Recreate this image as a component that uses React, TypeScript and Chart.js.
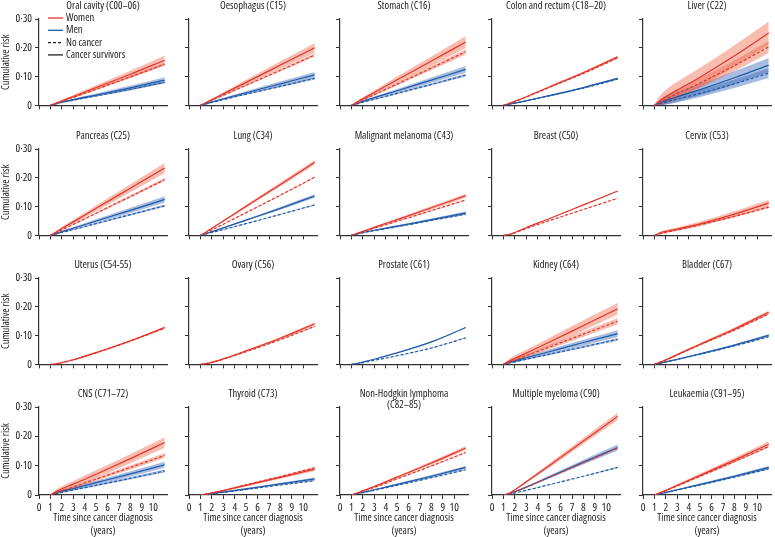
import React, { useEffect, useRef } from 'react';
import { Chart, registerables } from 'chart.js';

Chart.register(...registerables);

const FONT = '"Open Sans", "DejaVu Sans Condensed", sans-serif';
const STRETCH = 'condensed';
Chart.defaults.font.family = FONT;
Chart.defaults.font.weight = STRETCH as any;
Chart.defaults.color = '#222';

// ---- shared axes ----
const YEARS = [1, 1.5, 2, 3, 5, 8, 11];
const X_TICKS = [0, 1, 2, 3, 4, 5, 6, 7, 8, 9, 10];
const X_LABELS = ['0', '1', '2', '3', '4', '5', '6', '7', '8', '9', '10'];
const Y_TICKS = [0, 0.1, 0.2, 0.3];
const Y_LABELS = ['0', '0·10', '0·20', '0·30'];
const LEGEND_LABELS = ['Women', 'Men', 'No cancer', 'Cancer survivors'];
const X_TITLE = ['Time since cancer diagnosis', '(years)'];
const Y_TITLE = 'Cumulative risk';

const TITLES: (string | string[])[] = [
  'Oral cavity (C00–06)', 'Oesophagus (C15)', 'Stomach (C16)', 'Colon and rectum (C18–20)', 'Liver (C22)',
  'Pancreas (C25)', 'Lung (C34)', 'Malignant melanoma (C43)', 'Breast (C50)', 'Cervix (C53)',
  'Uterus (C54-55)', 'Ovary (C56)', 'Prostate (C61)', 'Kidney (C64)', 'Bladder (C67)',
  'CNS (C71–72)', 'Thyroid (C73)', ['Non-Hodgkin lymphoma', '(C82–85)'], 'Multiple myeloma (C90)', 'Leukaemia (C91–95)',
];

// ---- data: W = women survivors, Wnc = women no cancer, M = men survivors, Mnc = men no cancer; *Ci = half-width of band ----
const oralW = [0, 0.008, 0.016, 0.031, 0.062, 0.108, 0.157];
const oralWCi = [0, 0.002, 0.003, 0.005, 0.008, 0.012, 0.016];
const oralWnc = [0, 0.007, 0.014, 0.028, 0.056, 0.099, 0.143];
const oralWncCi = [0, 0.001, 0.001, 0.002, 0.003, 0.004, 0.005];
const oralM = [0, 0.006, 0.011, 0.020, 0.036, 0.061, 0.088];
const oralMCi = [0, 0.001, 0.002, 0.003, 0.005, 0.008, 0.010];
const oralMnc = [0, 0.005, 0.010, 0.018, 0.033, 0.056, 0.080];
const oralMncCi = [0, 0.001, 0.001, 0.001, 0.002, 0.003, 0.004];

const oesoW = [0, 0.010, 0.020, 0.040, 0.080, 0.140, 0.200];
const oesoWCi = [0, 0.002, 0.003, 0.005, 0.009, 0.013, 0.017];
const oesoWnc = [0, 0.009, 0.018, 0.035, 0.070, 0.122, 0.175];
const oesoWncCi = [0, 0.001, 0.001, 0.002, 0.003, 0.004, 0.005];
const oesoM = [0, 0.006, 0.012, 0.023, 0.044, 0.075, 0.106];
const oesoMCi = [0, 0.001, 0.002, 0.003, 0.005, 0.008, 0.010];
const oesoMnc = [0, 0.005, 0.010, 0.020, 0.039, 0.066, 0.094];
const oesoMncCi = [0, 0.001, 0.001, 0.001, 0.002, 0.003, 0.004];

const stomW = [0, 0.012, 0.023, 0.045, 0.089, 0.154, 0.220];
const stomWCi = [0, 0.003, 0.005, 0.007, 0.011, 0.016, 0.021];
const stomWnc = [0, 0.009, 0.019, 0.037, 0.074, 0.130, 0.186];
const stomWncCi = [0, 0.001, 0.002, 0.003, 0.005, 0.007, 0.009];
const stomM = [0, 0.007, 0.014, 0.027, 0.051, 0.088, 0.125];
const stomMCi = [0, 0.002, 0.003, 0.004, 0.006, 0.009, 0.012];
const stomMnc = [0, 0.005, 0.011, 0.021, 0.042, 0.073, 0.105];
const stomMncCi = [0, 0.001, 0.001, 0.002, 0.003, 0.004, 0.005];

const colonW = [0, 0.007, 0.014, 0.030, 0.064, 0.114, 0.169];
const colonWCi = [0, 0.001, 0.001, 0.002, 0.002, 0.003, 0.004];
const colonWnc = [0, 0.007, 0.014, 0.029, 0.062, 0.111, 0.165];
const colonWncCi = [0, 0, 0.001, 0.001, 0.001, 0.002, 0.002];
const colonM = [0, 0.004, 0.008, 0.016, 0.034, 0.062, 0.094];
const colonMCi = [0, 0.001, 0.001, 0.001, 0.002, 0.002, 0.003];
const colonMnc = [0, 0.004, 0.008, 0.016, 0.033, 0.060, 0.091];
const colonMncCi = [0, 0, 0, 0.001, 0.001, 0.001, 0.002];

const liverW = [0, 0.016, 0.030, 0.053, 0.098, 0.172, 0.251];
const liverWCi = [0.003, 0.018, 0.024, 0.029, 0.033, 0.037, 0.040];
const liverWnc = [0, 0.011, 0.022, 0.041, 0.078, 0.138, 0.203];
const liverWncCi = [0.002, 0.010, 0.013, 0.015, 0.017, 0.019, 0.021];
const liverM = [0, 0.009, 0.017, 0.030, 0.055, 0.096, 0.140];
const liverMCi = [0.002, 0.011, 0.014, 0.017, 0.020, 0.023, 0.025];
const liverMnc = [0, 0.006, 0.012, 0.022, 0.042, 0.075, 0.112];
const liverMncCi = [0.001, 0.007, 0.009, 0.011, 0.013, 0.015, 0.017];

const pancW = [0, 0.012, 0.024, 0.047, 0.094, 0.164, 0.234];
const pancWCi = [0, 0.003, 0.005, 0.007, 0.010, 0.014, 0.017];
const pancWnc = [0, 0.009, 0.019, 0.038, 0.077, 0.135, 0.194];
const pancWncCi = [0, 0.001, 0.001, 0.002, 0.003, 0.004, 0.005];
const pancM = [0, 0.006, 0.013, 0.025, 0.050, 0.087, 0.125];
const pancMCi = [0, 0.002, 0.003, 0.004, 0.006, 0.009, 0.011];
const pancMnc = [0, 0.005, 0.010, 0.020, 0.041, 0.072, 0.103];
const pancMncCi = [0, 0.001, 0.001, 0.001, 0.002, 0.003, 0.004];

const lungW = [0, 0.012, 0.025, 0.050, 0.101, 0.177, 0.254];
const lungWCi = [0, 0.001, 0.002, 0.003, 0.005, 0.007, 0.008];
const lungWnc = [0, 0.009, 0.019, 0.039, 0.079, 0.140, 0.202];
const lungWncCi = [0, 0, 0.001, 0.001, 0.001, 0.002, 0.002];
const lungM = [0, 0.006, 0.013, 0.026, 0.053, 0.094, 0.137];
const lungMCi = [0, 0.001, 0.001, 0.002, 0.003, 0.005, 0.006];
const lungMnc = [0, 0.005, 0.010, 0.020, 0.041, 0.073, 0.106];
const lungMncCi = [0, 0, 0, 0.001, 0.001, 0.001, 0.002];

const melW = [0, 0.007, 0.014, 0.028, 0.055, 0.096, 0.138];
const melWCi = [0, 0.001, 0.002, 0.003, 0.004, 0.006, 0.007];
const melWnc = [0, 0.006, 0.012, 0.025, 0.049, 0.086, 0.123];
const melWncCi = [0, 0, 0.001, 0.001, 0.001, 0.002, 0.002];
const melM = [0, 0.005, 0.010, 0.018, 0.032, 0.055, 0.078];
const melMCi = [0, 0.001, 0.001, 0.002, 0.003, 0.004, 0.005];
const melMnc = [0, 0.005, 0.009, 0.017, 0.030, 0.052, 0.074];
const melMncCi = [0, 0, 0, 0.001, 0.001, 0.001, 0.002];

const breastW = [0, 0.003, 0.010, 0.027, 0.058, 0.106, 0.154];
const breastWCi = [0, 0, 0.001, 0.001, 0.001, 0.002, 0.002];
const breastWnc = [0, 0.003, 0.009, 0.024, 0.051, 0.090, 0.129];
const breastWncCi = [0, 0, 0, 0, 0.001, 0.001, 0.001];

const cervixW = [0, 0.009, 0.014, 0.022, 0.040, 0.074, 0.112];
const cervixWCi = [0.001, 0.004, 0.005, 0.006, 0.008, 0.010, 0.012];
const cervixWnc = [0, 0.005, 0.010, 0.019, 0.037, 0.066, 0.098];
const cervixWncCi = [0, 0.001, 0.001, 0.002, 0.002, 0.003, 0.004];

const uterusW = [0, 0.002, 0.006, 0.016, 0.041, 0.082, 0.128];
const uterusWCi = [0, 0.001, 0.001, 0.001, 0.002, 0.003, 0.004];
const uterusWnc = [0, 0.002, 0.006, 0.016, 0.040, 0.081, 0.126];
const uterusWncCi = [0, 0, 0, 0.001, 0.001, 0.001, 0.002];

const ovaryW = [0, 0.003, 0.007, 0.019, 0.047, 0.091, 0.141];
const ovaryWCi = [0, 0.001, 0.001, 0.002, 0.003, 0.004, 0.005];
const ovaryWnc = [0, 0.003, 0.007, 0.018, 0.044, 0.086, 0.132];
const ovaryWncCi = [0, 0, 0, 0.001, 0.001, 0.001, 0.002];

const prostM = [0, 0.003, 0.008, 0.018, 0.040, 0.078, 0.128];
const prostMCi = [0, 0, 0.001, 0.001, 0.001, 0.002, 0.002];
const prostMnc = [0, 0.003, 0.006, 0.014, 0.030, 0.057, 0.092];
const prostMncCi = [0, 0, 0, 0, 0.001, 0.001, 0.001];

const kidW = [0, 0.012, 0.021, 0.039, 0.077, 0.135, 0.193];
const kidWCi = [0.001, 0.008, 0.010, 0.012, 0.015, 0.018, 0.020];
const kidWnc = [0, 0.008, 0.015, 0.030, 0.060, 0.105, 0.150];
const kidWncCi = [0, 0.003, 0.004, 0.005, 0.007, 0.009, 0.011];
const kidM = [0, 0.007, 0.012, 0.023, 0.044, 0.076, 0.107];
const kidMCi = [0, 0.004, 0.005, 0.006, 0.008, 0.010, 0.012];
const kidMnc = [0, 0.005, 0.009, 0.018, 0.035, 0.061, 0.087];
const kidMncCi = [0, 0.001, 0.002, 0.002, 0.003, 0.004, 0.005];

const bladW = [0, 0.008, 0.016, 0.034, 0.070, 0.123, 0.181];
const bladWCi = [0, 0.001, 0.002, 0.003, 0.004, 0.005, 0.006];
const bladWnc = [0, 0.008, 0.015, 0.033, 0.068, 0.119, 0.175];
const bladWncCi = [0, 0, 0.001, 0.001, 0.001, 0.002, 0.002];
const bladM = [0, 0.004, 0.009, 0.018, 0.037, 0.067, 0.101];
const bladMCi = [0, 0.001, 0.001, 0.002, 0.002, 0.003, 0.004];
const bladMnc = [0, 0.004, 0.008, 0.017, 0.035, 0.064, 0.096];
const bladMncCi = [0, 0, 0, 0.001, 0.001, 0.001, 0.002];

const cnsW = [0, 0.012, 0.021, 0.037, 0.071, 0.124, 0.179];
const cnsWCi = [0.001, 0.007, 0.009, 0.011, 0.013, 0.016, 0.018];
const cnsWnc = [0, 0.007, 0.014, 0.027, 0.054, 0.094, 0.135];
const cnsWncCi = [0, 0.002, 0.003, 0.004, 0.005, 0.007, 0.008];
const cnsM = [0, 0.008, 0.013, 0.022, 0.042, 0.072, 0.103];
const cnsMCi = [0, 0.004, 0.005, 0.006, 0.007, 0.009, 0.010];
const cnsMnc = [0, 0.005, 0.009, 0.017, 0.033, 0.057, 0.082];
const cnsMncCi = [0, 0.001, 0.002, 0.002, 0.003, 0.004, 0.005];

const thyW = [0, 0.003, 0.007, 0.015, 0.033, 0.060, 0.088];
const thyWCi = [0, 0.001, 0.001, 0.002, 0.004, 0.005, 0.007];
const thyWnc = [0, 0.003, 0.007, 0.016, 0.035, 0.063, 0.093];
const thyWncCi = [0, 0, 0, 0.001, 0.001, 0.001, 0.002];
const thyM = [0, 0.002, 0.005, 0.010, 0.021, 0.038, 0.055];
const thyMCi = [0, 0.001, 0.001, 0.002, 0.003, 0.004, 0.005];
const thyMnc = [0, 0.002, 0.004, 0.009, 0.019, 0.034, 0.049];
const thyMncCi = [0, 0, 0, 0.001, 0.001, 0.001, 0.001];

const nhlW = [0, 0.007, 0.014, 0.029, 0.061, 0.109, 0.160];
const nhlWCi = [0, 0.001, 0.002, 0.003, 0.004, 0.006, 0.007];
const nhlWnc = [0, 0.006, 0.013, 0.026, 0.055, 0.099, 0.145];
const nhlWncCi = [0, 0, 0.001, 0.001, 0.001, 0.002, 0.002];
const nhlM = [0, 0.005, 0.009, 0.018, 0.036, 0.064, 0.094];
const nhlMCi = [0, 0.001, 0.001, 0.002, 0.003, 0.004, 0.005];
const nhlMnc = [0, 0.004, 0.008, 0.016, 0.033, 0.059, 0.086];
const nhlMncCi = [0, 0, 0, 0.001, 0.001, 0.001, 0.002];

const myelW = [0, 0.006, 0.018, 0.045, 0.100, 0.184, 0.268];
const myelWCi = [0, 0.001, 0.002, 0.004, 0.007, 0.010, 0.012];
const myelWnc = [0, 0.004, 0.011, 0.027, 0.060, 0.110, 0.160];
const myelWncCi = [0, 0, 0.001, 0.001, 0.001, 0.002, 0.002];
const myelM = [0, 0.004, 0.011, 0.027, 0.061, 0.112, 0.162];
const myelMCi = [0, 0.001, 0.002, 0.003, 0.005, 0.008, 0.010];
const myelMnc = [0, 0.003, 0.007, 0.016, 0.035, 0.064, 0.094];
const myelMncCi = [0, 0, 0, 0.001, 0.001, 0.001, 0.002];

const leukW = [0, 0.008, 0.016, 0.033, 0.067, 0.119, 0.173];
const leukWCi = [0, 0.002, 0.003, 0.004, 0.006, 0.008, 0.010];
const leukWnc = [0, 0.007, 0.015, 0.031, 0.064, 0.114, 0.165];
const leukWncCi = [0, 0, 0.001, 0.001, 0.001, 0.002, 0.002];
const leukM = [0, 0.004, 0.009, 0.018, 0.036, 0.064, 0.094];
const leukMCi = [0, 0.001, 0.002, 0.002, 0.003, 0.004, 0.005];
const leukMnc = [0, 0.004, 0.008, 0.017, 0.034, 0.061, 0.089];
const leukMncCi = [0, 0, 0, 0.001, 0.001, 0.001, 0.002];

type S = number[] | null;
const PANELS: { w: S; wCi: S; wNc: S; wNcCi: S; m: S; mCi: S; mNc: S; mNcCi: S }[] = [
  { w: oralW, wCi: oralWCi, wNc: oralWnc, wNcCi: oralWncCi, m: oralM, mCi: oralMCi, mNc: oralMnc, mNcCi: oralMncCi },
  { w: oesoW, wCi: oesoWCi, wNc: oesoWnc, wNcCi: oesoWncCi, m: oesoM, mCi: oesoMCi, mNc: oesoMnc, mNcCi: oesoMncCi },
  { w: stomW, wCi: stomWCi, wNc: stomWnc, wNcCi: stomWncCi, m: stomM, mCi: stomMCi, mNc: stomMnc, mNcCi: stomMncCi },
  { w: colonW, wCi: colonWCi, wNc: colonWnc, wNcCi: colonWncCi, m: colonM, mCi: colonMCi, mNc: colonMnc, mNcCi: colonMncCi },
  { w: liverW, wCi: liverWCi, wNc: liverWnc, wNcCi: liverWncCi, m: liverM, mCi: liverMCi, mNc: liverMnc, mNcCi: liverMncCi },
  { w: pancW, wCi: pancWCi, wNc: pancWnc, wNcCi: pancWncCi, m: pancM, mCi: pancMCi, mNc: pancMnc, mNcCi: pancMncCi },
  { w: lungW, wCi: lungWCi, wNc: lungWnc, wNcCi: lungWncCi, m: lungM, mCi: lungMCi, mNc: lungMnc, mNcCi: lungMncCi },
  { w: melW, wCi: melWCi, wNc: melWnc, wNcCi: melWncCi, m: melM, mCi: melMCi, mNc: melMnc, mNcCi: melMncCi },
  { w: breastW, wCi: breastWCi, wNc: breastWnc, wNcCi: breastWncCi, m: null, mCi: null, mNc: null, mNcCi: null },
  { w: cervixW, wCi: cervixWCi, wNc: cervixWnc, wNcCi: cervixWncCi, m: null, mCi: null, mNc: null, mNcCi: null },
  { w: uterusW, wCi: uterusWCi, wNc: uterusWnc, wNcCi: uterusWncCi, m: null, mCi: null, mNc: null, mNcCi: null },
  { w: ovaryW, wCi: ovaryWCi, wNc: ovaryWnc, wNcCi: ovaryWncCi, m: null, mCi: null, mNc: null, mNcCi: null },
  { w: null, wCi: null, wNc: null, wNcCi: null, m: prostM, mCi: prostMCi, mNc: prostMnc, mNcCi: prostMncCi },
  { w: kidW, wCi: kidWCi, wNc: kidWnc, wNcCi: kidWncCi, m: kidM, mCi: kidMCi, mNc: kidMnc, mNcCi: kidMncCi },
  { w: bladW, wCi: bladWCi, wNc: bladWnc, wNcCi: bladWncCi, m: bladM, mCi: bladMCi, mNc: bladMnc, mNcCi: bladMncCi },
  { w: cnsW, wCi: cnsWCi, wNc: cnsWnc, wNcCi: cnsWncCi, m: cnsM, mCi: cnsMCi, mNc: cnsMnc, mNcCi: cnsMncCi },
  { w: thyW, wCi: thyWCi, wNc: thyWnc, wNcCi: thyWncCi, m: thyM, mCi: thyMCi, mNc: thyMnc, mNcCi: thyMncCi },
  { w: nhlW, wCi: nhlWCi, wNc: nhlWnc, wNcCi: nhlWncCi, m: nhlM, mCi: nhlMCi, mNc: nhlMnc, mNcCi: nhlMncCi },
  { w: myelW, wCi: myelWCi, wNc: myelWnc, wNcCi: myelWncCi, m: myelM, mCi: myelMCi, mNc: myelMnc, mNcCi: myelMncCi },
  { w: leukW, wCi: leukWCi, wNc: leukWnc, wNcCi: leukWncCi, m: leukM, mCi: leukMCi, mNc: leukMnc, mNcCi: leukMncCi },
];

// ---- styling / layout ----
const RED = '#e5332a';
const BLUE = '#1f5aa6';
const RED_BAND = 'rgba(235, 90, 60, 0.4)';
const BLUE_BAND = 'rgba(40, 90, 180, 0.4)';
const AXIS = '#333';
const TEXT = '#222';
const AXIS_X = [39, 189, 340, 492, 643];
const TOP_Y = [19, 149, 278, 407];
const PLOT_W = 128;
const PLOT_H = 88;
const TOP_PAD = 22;
const RIGHT_PAD = 4;
const TEXT_FONT = `${STRETCH} 10.5px ${FONT}`;

const titlePlugin = {
  id: 'panelTitle',
  afterDraw(chart: any, _args: any, opts: any) {
    const lines: string[] = opts.lines || [];
    const { ctx, chartArea } = chart;
    ctx.save();
    ctx.font = TEXT_FONT;
    ctx.fillStyle = TEXT;
    ctx.textAlign = 'center';
    ctx.textBaseline = 'middle';
    const cx = (chartArea.left + chartArea.right) / 2;
    ctx.fillText(lines[0], cx, chartArea.top - 13);
    if (lines.length > 1) ctx.fillText(lines[1], cx, chartArea.top - 2);
    ctx.restore();
  },
};

const legendPlugin = {
  id: 'panelLegend',
  afterDatasetsDraw(chart: any, _args: any, opts: any) {
    if (!opts.show) return;
    const { ctx, chartArea } = chart;
    const { left, top } = chartArea;
    const entries: [string, string, number[]][] = [
      [LEGEND_LABELS[0], RED, []],
      [LEGEND_LABELS[1], BLUE, []],
      [LEGEND_LABELS[2], TEXT, [3, 2]],
      [LEGEND_LABELS[3], TEXT, []],
    ];
    ctx.save();
    ctx.font = TEXT_FONT;
    ctx.fillStyle = TEXT;
    ctx.textAlign = 'left';
    ctx.textBaseline = 'middle';
    entries.forEach(([label, color, dash], i) => {
      const y = top - 1 + i * 12.3;
      ctx.beginPath();
      ctx.setLineDash(dash);
      ctx.strokeStyle = color;
      ctx.lineWidth = 1.3;
      ctx.moveTo(left + 9, y);
      ctx.lineTo(left + 24, y);
      ctx.stroke();
      ctx.setLineDash([]);
      ctx.fillText(label, left + 27, y);
    });
    ctx.restore();
  },
};

function buildDatasets(p: (typeof PANELS)[number]) {
  const bands: any[] = [];
  const lines: any[] = [];
  const add = (vals: S, ci: S, color: string, band: string, dashed: boolean) => {
    if (!vals || !ci) return;
    bands.push({
      data: YEARS.map((x, i) => ({ x, y: vals[i] + ci[i] })),
      borderWidth: 0, pointRadius: 0, fill: false, order: 2, cubicInterpolationMode: 'monotone',
    });
    bands.push({
      data: YEARS.map((x, i) => ({ x, y: Math.max(0, vals[i] - ci[i]) })),
      borderWidth: 0, pointRadius: 0, fill: '-1', backgroundColor: band, order: 2, cubicInterpolationMode: 'monotone',
    });
    lines.push({
      data: YEARS.map((x, i) => ({ x, y: vals[i] })),
      borderColor: color, borderWidth: 1.2, borderDash: dashed ? [3, 2] : [], pointRadius: 0, fill: false,
      order: 1, cubicInterpolationMode: 'monotone',
    });
  };
  add(p.wNc, p.wNcCi, RED, RED_BAND, true);
  add(p.mNc, p.mNcCi, BLUE, BLUE_BAND, true);
  add(p.w, p.wCi, RED, RED_BAND, false);
  add(p.m, p.mCi, BLUE, BLUE_BAND, false);
  return [...bands, ...lines];
}

function Panel({ idx }: { idx: number }) {
  const ref = useRef<HTMLCanvasElement>(null);
  const r = Math.floor(idx / 5);
  const c = idx % 5;
  const leftPad = c === 0 ? 39 : 10;
  const bottomPad = r === 3 ? 45 : 8;
  const title = TITLES[idx];
  const lines = Array.isArray(title) ? title : [title];

  useEffect(() => {
    if (!ref.current) return;
    const chart = new Chart(ref.current, {
      type: 'line',
      data: { datasets: buildDatasets(PANELS[idx]) },
      plugins: [titlePlugin, legendPlugin],
      options: {
        animation: false,
        responsive: true,
        maintainAspectRatio: false,
        events: [],
        layout: { padding: { top: TOP_PAD, right: RIGHT_PAD, left: 0, bottom: 0 } },
        plugins: {
          legend: { display: false },
          tooltip: { enabled: false },
          panelTitle: { lines },
          panelLegend: { show: idx === 0 },
        } as any,
        scales: {
          x: {
            type: 'linear',
            min: 0,
            max: 11.2,
            afterBuildTicks: (s: any) => { s.ticks = X_TICKS.map((v) => ({ value: v })); },
            afterFit: (s: any) => { s.height = bottomPad; },
            ticks: {
              autoSkip: false, maxRotation: 0, padding: 2, color: TEXT,
              font: { size: 11 },
              callback: (_v: any, i: number) => (r === 3 ? X_LABELS[i] : ''),
            },
            grid: { drawOnChartArea: false, drawTicks: true, tickLength: 4, color: AXIS, lineWidth: 1 },
            border: { display: true, color: AXIS, width: 1.2 },
            title: {
              display: r === 3,
              text: X_TITLE,
              color: TEXT,
              font: { size: 10.5, lineHeight: '13px' },
              padding: { top: 0, bottom: 2 },
            },
          },
          y: {
            type: 'linear',
            min: 0,
            max: 0.3,
            afterBuildTicks: (s: any) => { s.ticks = Y_TICKS.map((v) => ({ value: v })); },
            afterFit: (s: any) => { s.width = leftPad; },
            ticks: {
              padding: 3, color: TEXT,
              font: { size: 11 },
              callback: (_v: any, i: number) => (c === 0 ? Y_LABELS[i] : ''),
            },
            grid: { drawOnChartArea: false, drawTicks: true, tickLength: 4, color: AXIS, lineWidth: 1 },
            border: { display: true, color: AXIS, width: 1.2 },
            title: {
              display: c === 0,
              text: Y_TITLE,
              color: TEXT,
              font: { size: 10.5, lineHeight: 1.1 },
              padding: { top: 0, bottom: 0 },
            },
          },
        },
      } as any,
    });
    return () => chart.destroy();
  }, [idx]);

  const width = leftPad + PLOT_W + RIGHT_PAD;
  const height = TOP_PAD + PLOT_H + bottomPad;
  return (
    <div
      style={{
        position: 'absolute',
        left: AXIS_X[c] - leftPad,
        top: TOP_Y[r] - TOP_PAD,
        width,
        height,
      }}
    >
      <canvas ref={ref} />
    </div>
  );
}

export default function App() {
  return (
    <div style={{ position: 'absolute', left: 0, top: 0, width: 775, height: 537, background: '#fff', overflow: 'hidden' }}>
      {TITLES.map((_, i) => (
        <Panel key={i} idx={i} />
      ))}
    </div>
  );
}
